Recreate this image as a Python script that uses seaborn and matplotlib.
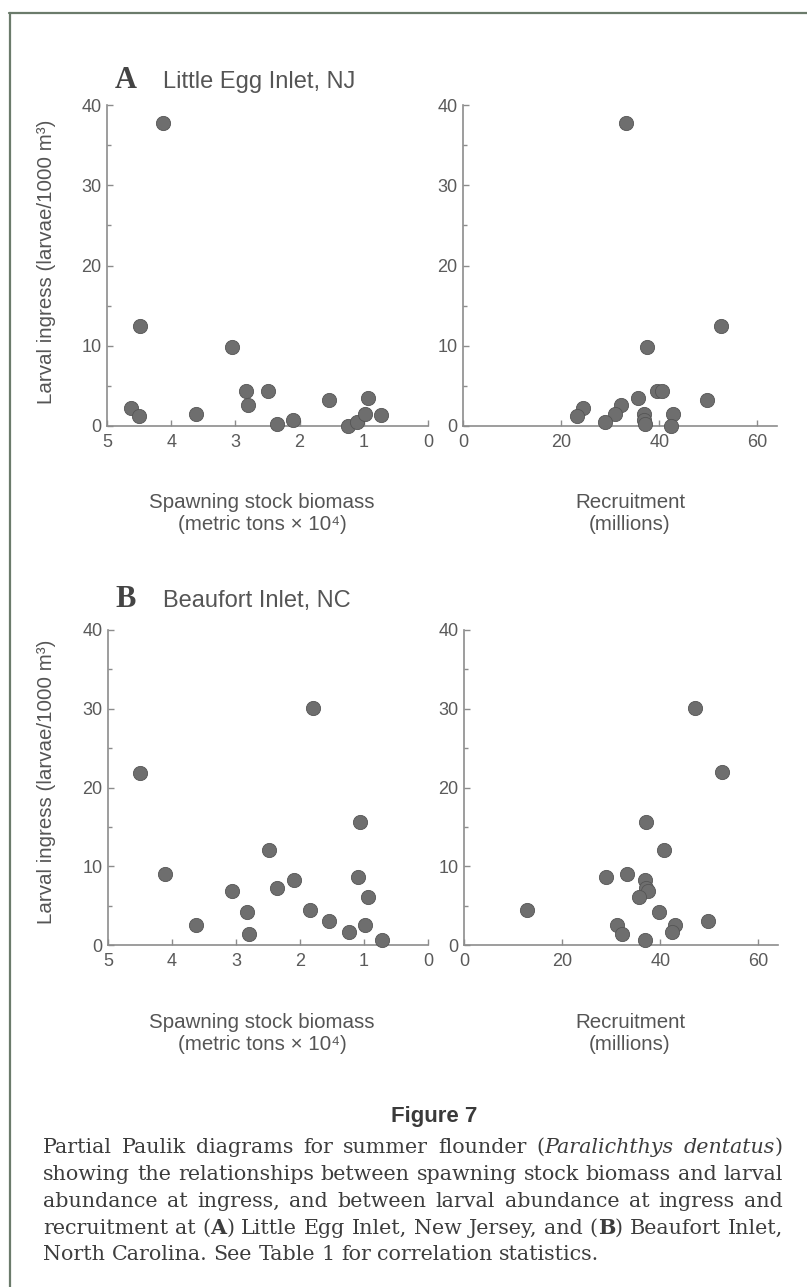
import matplotlib
matplotlib.use('Agg')
import matplotlib.pyplot as plt
import seaborn as sns
from matplotlib.ticker import MultipleLocator
from matplotlib.lines import Line2D

# values (larval ingress, larvae/1000 m3)
ssb_nj = [4.12, 4.49, 3.06, 4.62, 4.50, 3.62, 2.83, 2.80, 2.49, 2.35, 2.10, 1.54, 1.24, 1.10, 0.98, 0.93, 0.73]
larv_nj_ssb = [37.7, 12.4, 9.9, 2.3, 1.3, 1.5, 4.4, 2.6, 4.3, 0.3, 0.75, 3.2, 0.05, 0.55, 1.45, 3.5, 1.4]

rec_nj = [33.2, 52.5, 37.5, 49.7, 39.6, 40.5, 35.6, 32.2, 31.0, 24.5, 23.2, 28.9, 36.8, 36.9, 37.1, 42.9, 42.4]
larv_nj_rec = [37.8, 12.4, 9.9, 3.2, 4.4, 4.3, 3.5, 2.6, 1.45, 2.3, 1.3, 0.55, 1.45, 0.75, 0.3, 1.5, 0.05]

ssb_nc = [1.79, 4.50, 1.07, 2.49, 4.11, 2.10, 1.10, 2.36, 3.06, 0.93, 2.83, 1.85, 3.62, 1.54, 0.99, 1.23, 2.80, 0.72]
larv_nc_ssb = [30.1, 21.9, 15.6, 12.1, 9.0, 8.3, 8.6, 7.3, 6.9, 6.05, 4.2, 4.4, 2.5, 3.0, 2.5, 1.7, 1.4, 0.63]

rec_nc = [47.0, 52.5, 37.1, 40.7, 33.3, 28.9, 36.8, 37.1, 37.6, 35.6, 12.8, 39.7, 49.7, 31.2, 43.0, 42.4, 32.3, 36.8]
larv_nc_rec = [30.1, 22.0, 15.6, 12.1, 9.0, 8.6, 8.3, 7.3, 6.9, 6.05, 4.4, 4.2, 3.0, 2.5, 2.5, 1.7, 1.4, 0.63]

y_ticks = [0, 10, 20, 30, 40]
ssb_ticks = [5, 4, 3, 2, 1, 0]
rec_ticks = [0, 20, 40, 60]

W, H = 807, 1287
TXT = '#555555'


def fx(px):
    return px / W


def fy(py):
    return 1 - py / H


sns.set_style('ticks')
plt.rcParams['font.family'] = ['Liberation Sans', 'DejaVu Sans']

fig = plt.figure(figsize=(W / 100, H / 100), dpi=100)


def add_axes(l, t, r, b):
    return fig.add_axes([fx(l), fy(b), (r - l) / W, (b - t) / H])


def draw_panel(ax, x, y, xlim, xticks):
    sns.scatterplot(x=x, y=y, ax=ax, s=105, color='#6e6e6e', edgecolor='#555555',
                    linewidth=0.6, clip_on=False, zorder=3)
    ax.set_xlim(*xlim)
    ax.set_ylim(0, 40)
    ax.set_xticks(xticks)
    ax.set_yticks(y_ticks)
    ax.yaxis.set_minor_locator(MultipleLocator(5))
    sns.despine(ax=ax)
    for sp in ['left', 'bottom']:
        ax.spines[sp].set_color('#8c8c8c')
        ax.spines[sp].set_linewidth(1.2)
    ax.tick_params(which='both', direction='in', color='#8c8c8c', labelcolor='#5a5a5a',
                   labelsize=13, width=1)
    ax.tick_params(axis='x', pad=6, length=4)
    ax.tick_params(axis='y', pad=4, length=4)
    ax.tick_params(which='minor', length=3)
    ax.set_xlabel('')
    ax.set_ylabel('')
    ax.patch.set_alpha(0)


axA1 = add_axes(107, 105, 428, 426)
axA2 = add_axes(463, 105, 777, 426)
axB1 = add_axes(108, 630, 428, 945)
axB2 = add_axes(464, 630, 778, 945)

draw_panel(axA1, ssb_nj, larv_nj_ssb, (5, 0), ssb_ticks)
draw_panel(axA2, rec_nj, larv_nj_rec, (0, 64), rec_ticks)
draw_panel(axB1, ssb_nc, larv_nc_ssb, (5, 0), ssb_ticks)
draw_panel(axB2, rec_nc, larv_nc_rec, (0, 64), rec_ticks)

# panel headings
for letter, name, base in [('A', 'Little Egg Inlet, NJ', 88), ('B', 'Beaufort Inlet, NC', 607)]:
    fig.text(fx(115), fy(base), letter, family='Liberation Serif', weight='bold', size=22,
             color='#444444', va='baseline')
    fig.text(fx(163), fy(base), name, size=17, color=TXT, va='baseline')

# axis labels
for off in [0, 520]:
    fig.text(fx(47), fy(262 + off), 'Larval ingress (larvae/1000 m\u00b3)', rotation=90,
             ha='center', va='center', size=14.8, color=TXT)
    fig.text(fx(262), fy(502 + off), 'Spawning stock biomass', ha='center', va='center',
             size=14.8, color=TXT)
    fig.text(fx(262), fy(524 + off), '(metric tons \u00d7 10\u2074)', ha='center', va='center',
             size=14.8, color=TXT)
    fig.text(fx(630), fy(502 + off), 'Recruitment', ha='center', va='center',
             size=14.8, color=TXT)
    fig.text(fx(630), fy(524 + off), '(millions)', ha='center', va='center',
             size=14.8, color=TXT)

# page frame
fig.add_artist(Line2D([fx(9), 1], [fy(13), fy(13)], transform=fig.transFigure,
                      color='#6b7b6b', lw=1.6))
fig.add_artist(Line2D([fx(10), fx(10)], [fy(13), 0], transform=fig.transFigure,
                      color='#6b7b6b', lw=1.6))

# caption
fig.text(fx(434), fy(1122), 'Figure 7', ha='center', va='baseline', weight='bold',
         size=16, color='#3a3a3a')

caption = [
    [('Partial Paulik diagrams for summer flounder (', 'n'), ('Paralichthys dentatus', 'i'), (')', 'n')],
    [('showing the relationships between spawning stock biomass and larval', 'n')],
    [('abundance at ingress, and between larval abundance at ingress and', 'n')],
    [('recruitment at (', 'n'), ('A', 'b'), (') Little Egg Inlet, New Jersey, and (', 'n'),
     ('B', 'b'), (') Beaufort Inlet,', 'n')],
    [('North Carolina. See Table 1 for correlation statistics.', 'n')],
]
styles = {'n': {}, 'i': {'style': 'italic'}, 'b': {'weight': 'bold'}}
cap_font = 'DejaVu Serif'
renderer = fig.canvas.get_renderer()


def width_of(t):
    return t.get_window_extent(renderer).width


# pick a caption size so the widest justified line sits near the full measure
tmp = fig.text(0, 0, '', family=cap_font, size=13)
widest = 0
for line in caption[:-1]:
    tmp.set_text(''.join(s for s, _ in line))
    widest = max(widest, width_of(tmp))
cap_size = 13 * 736 / widest
tmp.set_fontsize(cap_size)
tmp.set_text('a a')
w1 = width_of(tmp)
tmp.set_text('aa')
space_w = w1 - width_of(tmp)
tmp.remove()

left, right = 43, 783
baselines = [1153, 1180, 1207, 1233.5, 1260]
for li, line in enumerate(caption):
    words = [[]]
    for text, st in line:
        parts = text.split(' ')
        for i, p in enumerate(parts):
            if i > 0:
                words.append([])
            if p:
                words[-1].append((p, st))
    words = [w for w in words if w]
    objs, widths = [], []
    for w in words:
        runs = []
        tot = 0
        for p, st in w:
            t = fig.text(0, 0, p, family=cap_font, size=cap_size, color='#3d3d3d',
                         va='baseline', **styles[st])
            rw = width_of(t)
            runs.append((t, rw))
            tot += rw
        objs.append(runs)
        widths.append(tot)
    if li < len(caption) - 1:
        gap = (right - left - sum(widths)) / (len(words) - 1)
    else:
        gap = space_w
    x = left
    for runs, tw in zip(objs, widths):
        cx = x
        for t, rw in runs:
            t.set_position((fx(cx), fy(baselines[li])))
            cx += rw
        x += tw + gap

fig.savefig('out.png', dpi=100)
